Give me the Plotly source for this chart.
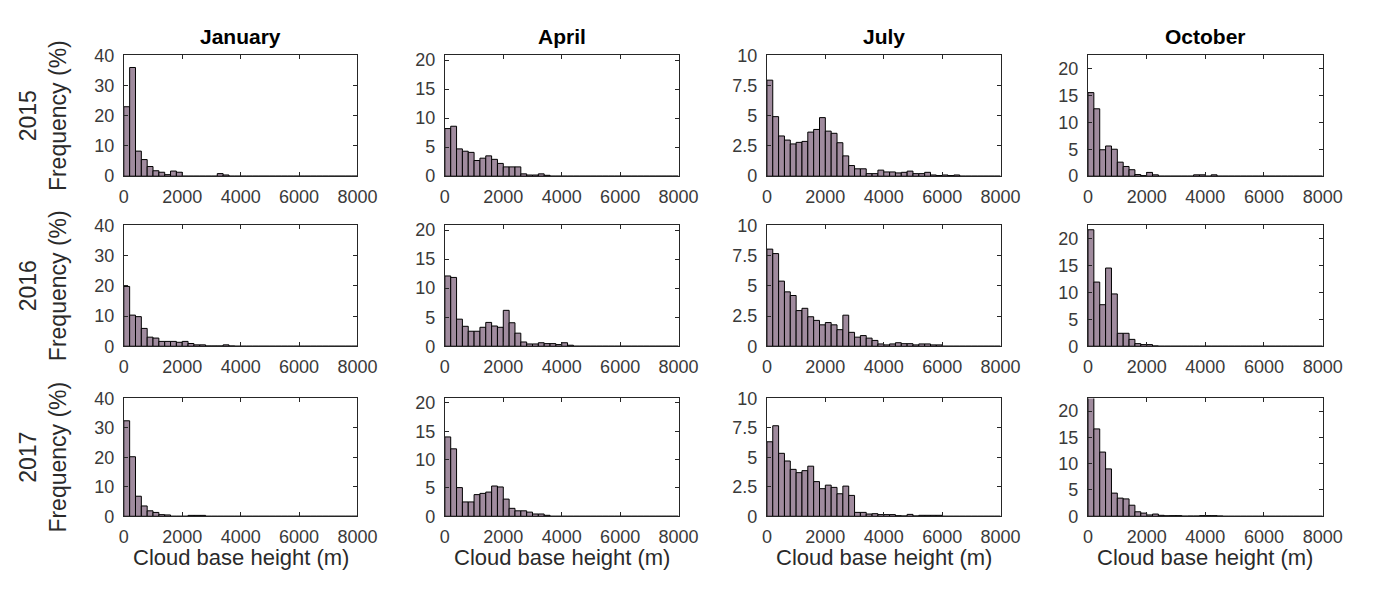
import plotly.graph_objects as go

# Cloud base height histograms, 200 m bins from 0 to 8000 m
BIN_WIDTH = 200
bin_centers = [b + BIN_WIDTH / 2 for b in range(0, 8000, BIN_WIDTH)]

months = ["January", "April", "July", "October"]
years = ["2015", "2016", "2017"]

# Frequency (%) per bin
jan_2015 = [23.0, 36.0, 8.3, 5.5, 3.2, 1.8, 1.3, 0.5, 1.7, 1.3,
            0, 0, 0, 0, 0, 0, 0.85, 0.4, 0, 0,
            0, 0, 0, 0, 0, 0, 0, 0, 0, 0,
            0, 0, 0, 0, 0, 0, 0, 0, 0, 0]
apr_2015 = [8.2, 8.6, 4.7, 4.3, 4.1, 2.7, 3.1, 3.5, 2.9, 2.2,
            1.6, 1.6, 1.6, 0.4, 0.2, 0.2, 0.4, 0.15, 0, 0,
            0, 0, 0, 0, 0, 0, 0, 0, 0, 0,
            0, 0, 0, 0, 0, 0, 0, 0, 0, 0]
jul_2015 = [7.95, 4.93, 3.33, 2.99, 2.67, 2.8, 2.88, 3.65, 3.87, 4.85,
            3.73, 3.55, 2.77, 1.68, 0.88, 0.61, 0.61, 0.21, 0.21, 0.5,
            0.35, 0.35, 0.27, 0.32, 0.42, 0.21, 0.21, 0.32, 0.1, 0.05,
            0.1, 0.05, 0.1, 0, 0, 0, 0, 0, 0, 0]
oct_2015 = [15.5, 12.5, 4.9, 5.6, 5.0, 2.6, 1.8, 1.2, 0.3, 0.1,
            0.7, 0.25, 0, 0, 0, 0, 0, 0, 0.25, 0.25,
            0, 0.25, 0, 0, 0, 0, 0, 0, 0, 0,
            0, 0, 0, 0, 0, 0, 0, 0, 0, 0]

jan_2016 = [19.8, 10.3, 9.8, 5.9, 3.0, 2.7, 1.6, 1.6, 1.6, 1.3,
            1.6, 0.9, 0.45, 0.45, 0.1, 0.1, 0.1, 0.45, 0.1, 0,
            0, 0, 0, 0, 0, 0, 0, 0, 0, 0,
            0, 0, 0, 0, 0, 0, 0, 0, 0, 0]
apr_2016 = [12.1, 11.85, 4.66, 3.43, 2.58, 2.58, 3.26, 4.1, 3.48, 3.26,
            6.18, 4.04, 2.25, 0.73, 0.39, 0.39, 0.6, 0.45, 0.45, 0.28,
            0.6, 0.17, 0, 0, 0, 0, 0, 0, 0, 0,
            0, 0, 0, 0, 0, 0, 0, 0, 0, 0]
jul_2016 = [8.04, 7.67, 5.39, 4.5, 4.2, 2.95, 3.14, 2.44, 2.14, 1.77,
            1.96, 1.77, 1.37, 2.57, 1.15, 0.75, 0.88, 0.67, 0.48, 0.19,
            0.11, 0.19, 0.29, 0.21, 0.21, 0.11, 0.19, 0.19, 0.11, 0.11,
            0, 0, 0, 0, 0, 0, 0, 0, 0, 0]
oct_2016 = [21.6, 11.9, 7.7, 14.5, 9.7, 2.4, 2.4, 1.27, 0.48, 0.3,
            0.3, 0.06, 0, 0, 0, 0, 0, 0, 0, 0,
            0, 0, 0, 0, 0, 0, 0, 0, 0, 0,
            0, 0, 0, 0, 0, 0, 0, 0, 0, 0]

jan_2017 = [32.4, 20.2, 6.8, 3.5, 1.85, 1.3, 0.55, 0.45, 0, 0,
            0, 0.3, 0.3, 0.3, 0, 0, 0, 0, 0, 0,
            0, 0, 0, 0, 0, 0, 0, 0, 0, 0,
            0, 0, 0, 0, 0, 0, 0, 0, 0, 0]
apr_2017 = [14.0, 11.9, 5.06, 2.53, 2.53, 3.82, 4.04, 4.27, 5.34, 5.17,
            3.03, 1.4, 0.96, 0.96, 0.73, 0.4, 0.4, 0.17, 0, 0,
            0, 0, 0, 0, 0, 0, 0, 0, 0, 0,
            0, 0, 0, 0, 0, 0, 0, 0, 0, 0]
jul_2017 = [6.32, 7.68, 5.34, 4.69, 3.98, 3.7, 3.87, 4.25, 2.94, 2.34,
            2.64, 2.45, 1.91, 2.56, 1.77, 0.33, 0.33, 0.19, 0.22, 0.14,
            0.14, 0.14, 0.05, 0.03, 0.16, 0.03, 0.08, 0.08, 0.08, 0.08,
            0, 0, 0, 0, 0, 0, 0, 0, 0, 0]
oct_2017 = [24.0, 16.6, 12.2, 9.0, 4.4, 3.45, 3.3, 2.1, 0.85, 0.6,
            0.25, 0.42, 0.18, 0.1, 0.12, 0.12, 0.03, 0.05, 0.05, 0.12,
            0.12, 0.12, 0.06, 0, 0, 0, 0, 0, 0, 0,
            0, 0, 0, 0, 0, 0, 0, 0, 0, 0]

freq = [
    [jan_2015, apr_2015, jul_2015, oct_2015],
    [jan_2016, apr_2016, jul_2016, oct_2016],
    [jan_2017, apr_2017, jul_2017, oct_2017],
]

# y-axis limits and ticks for each month column
y_max = [40, 20.8, 10, 22.4]
y_ticks = [
    [0, 10, 20, 30, 40],
    [0, 5, 10, 15, 20],
    [0, 2.5, 5, 7.5, 10],
    [0, 5, 10, 15, 20],
]
x_ticks = [0, 2000, 4000, 6000, 8000]

W, H = 1378, 591
# Panel boxes in pixels: (left, right) per column, (top, bottom) per row
col_px = [(121, 359), (448, 686), (776, 1014), (1103, 1342)]
row_px = [(47, 172), (223, 348), (402, 524)]

FILL = "#a08b9e"
AXIS_COLOR = "#262626"
FAMILY = "Liberation Sans, Arial, sans-serif"
TICK_FONT = dict(family=FAMILY, size=18, color="#3a3a3a")
XLABEL_FONT = dict(family=FAMILY, size=22, color="#2a2a2a")
YLABEL_FONT = dict(family=FAMILY, size=23, color="#2a2a2a")
TITLE_FONT = dict(family=FAMILY, size=21, color="#000000")

fig = go.Figure()
layout = {}

for r in range(3):
    for c in range(4):
        idx = r * 4 + c + 1
        sfx = "" if idx == 1 else str(idx)
        fig.add_trace(go.Bar(
            x=bin_centers, y=freq[r][c], width=BIN_WIDTH,
            marker=dict(color=FILL, line=dict(color="black", width=1)),
            xaxis="x" + sfx, yaxis="y" + sfx, showlegend=False,
            hovertemplate="%{x} m: %{y}%<extra></extra>",
        ))
        x0, x1 = col_px[c]
        y0, y1 = row_px[r]
        common = dict(
            showline=True, linecolor=AXIS_COLOR, linewidth=1, mirror="ticks",
            ticks="inside", ticklen=4, tickcolor=AXIS_COLOR, tickwidth=1,
            showgrid=False, zeroline=False, tickfont=TICK_FONT,
        )
        layout["xaxis" + sfx] = dict(
            domain=[x0 / W, x1 / W], anchor="y" + sfx,
            range=[0, 8000], tickvals=x_ticks, ticklabelstandoff=4, **common,
        )
        layout["yaxis" + sfx] = dict(
            domain=[1 - y1 / H, 1 - y0 / H], anchor="x" + sfx,
            range=[0, y_max[c]], tickvals=y_ticks[c], ticklabelstandoff=5, **common,
        )

annotations = []
for c, name in enumerate(months):
    x0, x1 = col_px[c]
    annotations.append(dict(
        text="<b>%s</b>" % name, x=(x0 + x1) / 2 / W, y=1 - 27 / H,
        xref="paper", yref="paper", xanchor="center", yanchor="middle",
        showarrow=False, font=TITLE_FONT,
    ))
    annotations.append(dict(
        text="Cloud base height (m)", x=(x0 + x1) / 2 / W, y=1 - 567 / H,
        xref="paper", yref="paper", xanchor="center", yanchor="middle",
        showarrow=False, font=XLABEL_FONT,
    ))
for r, yr in enumerate(years):
    y0, y1 = row_px[r]
    annotations.append(dict(
        text="%s<br>Frequency (%%)" % yr, x=39 / W, y=1 - (y0 + y1) / 2 / H,
        xref="paper", yref="paper", xanchor="center", yanchor="middle",
        textangle=-90, showarrow=False, font=YLABEL_FONT,
    ))

fig.update_layout(
    width=W, height=H, margin=dict(l=0, r=0, t=0, b=0),
    paper_bgcolor="white", plot_bgcolor="white",
    barmode="overlay", annotations=annotations, **layout,
)

fig.write_html("out.html")
